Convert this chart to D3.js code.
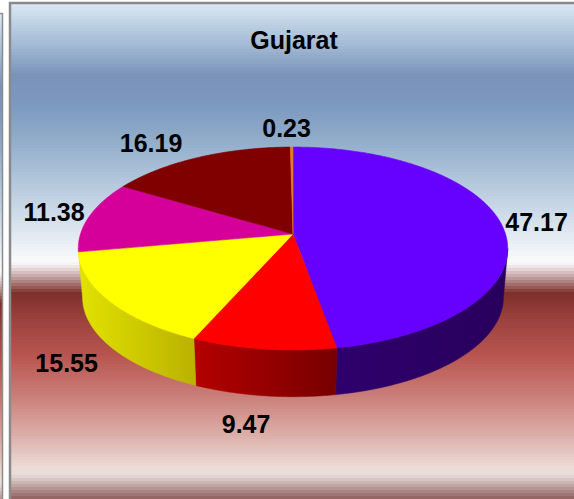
<!DOCTYPE html>
<html>
<head>
<meta charset="utf-8">
<script src="https://cdn.jsdelivr.net/npm/d3@7"></script>
<style>
  html, body { margin: 0; padding: 0; background: #fff; overflow: hidden; }
</style>
</head>
<body>
<div id="chart"></div>
<script>
// chart data
const title = 'Gujarat';
const values = [47.17, 9.47, 15.55, 11.38, 16.19, 0.23];
const valueLabels = ['47.17', '9.47', '15.55', '11.38', '16.19', '0.23'];
const topColors = ['#6600ff', '#ff0000', '#ffff00', '#d5009a', '#800000', '#e8782a'];
// side shading, light end -> dark end
const sideColors = [
  ['#2e006c', '#28005c'],
  ['#b40000', '#770000'],
  ['#e2e200', '#bab200'],
  ['#c8008f', '#b80084'],
  ['#600000', '#500000'],
  ['#b05a20', '#a04f1a']
];

// background bands of the plot panel (y, colour)
const bgStops = [
  [4, '#dce8f4'], [20, '#c3d5e7'], [45, '#a2bad4'], [75, '#7a92b9'],
  [105, '#7c99bf'], [140, '#91adca'], [180, '#b1c6db'], [215, '#cfdce9'],
  [245, '#ebf0f5'], [262, '#fafbfc'], [268, '#e8dede'], [280, '#b68e8c'],
  [293, '#7d302c'], [320, '#9c423e'], [355, '#b85450'], [390, '#c87772'],
  [435, '#dcaea8'], [468, '#ecdcd8'], [475, '#e8dcd9'], [485, '#c2a8a5'],
  [499, '#8e5e5c']
];

const width = 574, height = 499;
const font = 'Arial, "Liberation Sans", sans-serif';

const svg = d3.select('#chart').append('svg')
  .attr('width', width)
  .attr('height', height)
  .attr('viewBox', [0, 0, width, height]);

const defs = svg.append('defs');

// banded background, like the stepped gradient of the original
const bgColor = d3.scaleLinear()
  .domain(bgStops.map(d => d[0]))
  .range(bgStops.map(d => d[1]))
  .interpolate(d3.interpolateRgb)
  .clamp(true);

function drawBackground(g, x0, x1, y0, shift) {
  const band = 3;
  for (let y = y0; y < height; y += band) {
    g.append('rect')
      .attr('x', x0).attr('y', y)
      .attr('width', x1 - x0).attr('height', band)
      .attr('fill', bgColor(y - shift + band / 2));
  }
}

// neighbouring panel peeking in on the left
const leftPanel = svg.append('g');
drawBackground(leftPanel, 0, 2, 14, 10);
leftPanel.append('rect')
  .attr('x', -40).attr('y', 13.5).attr('width', 42.5).attr('height', 520)
  .attr('fill', 'none').attr('stroke', '#8c8c8c').attr('stroke-width', 1.5);

// main panel
const panel = svg.append('g');
drawBackground(panel, 11, width, 4, 0);
panel.append('rect')
  .attr('x', 10).attr('y', 3).attr('width', 600).attr('height', 520)
  .attr('fill', 'none').attr('stroke', '#8a8a8a').attr('stroke-width', 2.5);

// title
svg.append('text')
  .attr('x', 294).attr('y', 49)
  .attr('text-anchor', 'middle')
  .attr('font-family', font)
  .attr('font-weight', 'bold')
  .attr('font-size', 25)
  .attr('fill', '#000')
  .text(title);

// 3D pie geometry (perspective ellipse)
const cx = 293, cy = 234;
const k = 0.143;          // perspective factor (far side smaller)
const depth = 49;         // thickness of the pie
const shrink = 0.98;      // bottom face is slightly smaller
const x = d3.scaleLinear().domain([-1, 1]).range([cx - 212.5, cx + 212.5]);
const y = d3.scaleLinear().domain([-1, 1]).range([cy + 99.4, cy - 99.4]);

function project(theta, r, level) {
  const u = r * Math.sin(theta), v = r * Math.cos(theta);
  const s = level ? shrink : 1;
  const d = 1 + k * v;
  return [x(s * u / d), y(s * v / d) + level * depth];
}

function arcPoints(a0, a1, level) {
  const n = Math.max(2, Math.ceil(Math.abs(a1 - a0) / 0.01));
  return d3.range(n + 1).map(i => project(a0 + (a1 - a0) * i / n, 1, level));
}

const pie = d3.pie().sort(null).value(d => d);
const slices = pie(values);

// visible part of the side wall lies between the two silhouette angles
const thR = Math.acos(-k), thL = 2 * Math.PI - Math.acos(-k);
const line = d3.line();

// side walls: skip hairline slivers, let the neighbours reach the silhouette
const walls = slices
  .map((s, i) => ({ i, t0: Math.max(s.startAngle, thR), t1: Math.min(s.endAngle, thL) }))
  .filter(w => w.t1 - w.t0 > 0.05);
walls[0].t0 = thR;
walls[walls.length - 1].t1 = thL;

const sides = svg.append('g');
walls.forEach(({ i, t0, t1 }) => {
  const top = arcPoints(t0, t1, 0);
  const bottom = arcPoints(t1, t0, 1);
  const pts = top.concat(bottom);
  const xs = d3.extent(pts, p => p[0]);
  const id = 'side' + i;
  const grad = defs.append('linearGradient')
    .attr('id', id)
    .attr('gradientUnits', 'userSpaceOnUse')
    .attr('x1', xs[0]).attr('x2', xs[1]).attr('y1', 0).attr('y2', 0);
  grad.append('stop').attr('offset', 0).attr('stop-color', sideColors[i][0]);
  grad.append('stop').attr('offset', 1).attr('stop-color', sideColors[i][1]);
  sides.append('path')
    .attr('d', line(pts) + 'Z')
    .attr('fill', `url(#${id})`)
    .attr('stroke', `url(#${id})`)
    .attr('stroke-width', 0.6);
});

const tops = svg.append('g');
slices.forEach((s, i) => {
  const pts = [[cx, cy]].concat(arcPoints(s.startAngle, s.endAngle, 0));
  tops.append('path')
    .attr('d', line(pts) + 'Z')
    .attr('fill', topColors[i])
    .attr('stroke', topColors[i])
    .attr('stroke-width', 0.6)
    .attr('stroke-linejoin', 'round');
});

// data labels, placed outside the edge along the mid angle
const labelSize = 25;
const labels = svg.append('g');
const soft = t => Math.sign(t) * Math.pow(Math.abs(t), 0.4);
slices.forEach((s, i) => {
  const mid = (s.startAngle + s.endAngle) / 2;
  const front = mid > thR && mid < thL;
  const anchor = project(mid, 1, front ? 1 : 0);
  let dx = anchor[0] - cx, dy = anchor[1] - cy;
  const len = Math.hypot(dx, dy);
  dx /= len; dy /= len;
  const m = Math.max(Math.abs(dx), Math.abs(dy));
  const t = labels.append('text')
    .attr('text-anchor', 'middle')
    .attr('font-family', font)
    .attr('font-weight', 'bold')
    .attr('font-size', labelSize)
    .attr('fill', '#000')
    .text(valueLabels[i]);
  const hw = t.node().getComputedTextLength() / 2;
  const hh = labelSize * 0.36;
  // labels sit further out when the slice points up or down
  const gapX = 2 + 30 * Math.abs(dy);
  const gapY = 10 + 10 * Math.max(0, dy) * Math.max(0, dy);
  const lx = anchor[0] + soft(dx / m) * hw + dx * gapX;
  const ly = anchor[1] + soft(dy / m) * hh + dy * gapY;
  t.attr('x', lx).attr('y', ly + hh);
});
</script>
</body>
</html>
